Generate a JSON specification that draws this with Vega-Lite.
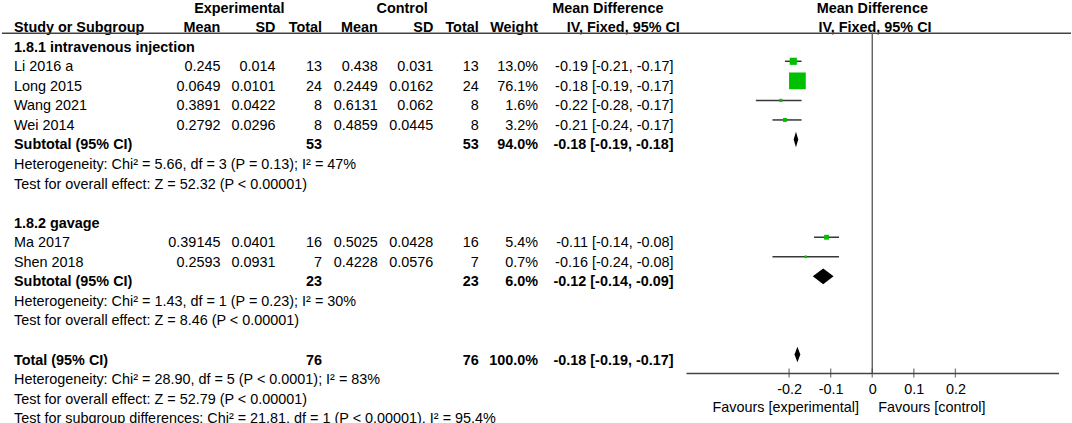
{
  "$schema": "https://vega.github.io/schema/vega-lite/v6.json",
  "width": 1072,
  "height": 373,
  "autosize": {"type": "none"},
  "padding": {"left": 0, "top": 0, "right": 0, "bottom": 50},
  "background": "white",
  "config": {
    "view": {"stroke": null},
    "text": {"font": "Liberation Sans", "fontSize": 14.4, "baseline": "middle", "dy": 6, "color": "#000000"}
  },
  "datasets": {
    "rows": [
      {"k": -3, "kind": "header", "expHead": "Experimental", "ctlHead": "Control", "mdHead": "Mean Difference", "plotHead": "Mean Difference"},
      {"k": -2, "kind": "header", "study": "Study or Subgroup", "eMean": "Mean", "eSD": "SD", "eTotal": "Total", "cMean": "Mean", "cSD": "SD", "cTotal": "Total", "weight": "Weight", "ivHead": "IV, Fixed, 95% CI", "plotIV": "IV, Fixed, 95% CI"},
      {"k": -1, "kind": "group", "study": "1.8.1 intravenous injection"},
      {"k": 0, "kind": "study", "study": "Li 2016 a", "eMean": 0.245, "eSD": 0.014, "eTotal": 13, "cMean": 0.438, "cSD": 0.031, "cTotal": 13, "weight": "13.0%", "w": 13.0, "md": -0.19, "lo": -0.21, "hi": -0.17, "ci": "-0.19 [-0.21, -0.17]"},
      {"k": 1, "kind": "study", "study": "Long 2015", "eMean": 0.0649, "eSD": 0.0101, "eTotal": 24, "cMean": 0.2449, "cSD": 0.0162, "cTotal": 24, "weight": "76.1%", "w": 76.1, "md": -0.18, "lo": -0.19, "hi": -0.17, "ci": "-0.18 [-0.19, -0.17]"},
      {"k": 2, "kind": "study", "study": "Wang 2021", "eMean": 0.3891, "eSD": 0.0422, "eTotal": 8, "cMean": 0.6131, "cSD": 0.062, "cTotal": 8, "weight": "1.6%", "w": 1.6, "md": -0.22, "lo": -0.28, "hi": -0.17, "ci": "-0.22 [-0.28, -0.17]"},
      {"k": 3, "kind": "study", "study": "Wei 2014", "eMean": 0.2792, "eSD": 0.0296, "eTotal": 8, "cMean": 0.4859, "cSD": 0.0445, "cTotal": 8, "weight": "3.2%", "w": 3.2, "md": -0.21, "lo": -0.24, "hi": -0.17, "ci": "-0.21 [-0.24, -0.17]"},
      {"k": 4, "kind": "pooled", "study": "Subtotal (95% CI)", "eTotal": 53, "cTotal": 53, "weight": "94.0%", "md": -0.1835, "lo": -0.189, "hi": -0.178, "ci": "-0.18 [-0.19, -0.18]"},
      {"k": 5, "kind": "note", "study": "Heterogeneity: Chi² = 5.66, df = 3 (P = 0.13); I² = 47%"},
      {"k": 6, "kind": "note", "study": "Test for overall effect: Z = 52.32 (P < 0.00001)"},
      {"k": 8, "kind": "group", "study": "1.8.2 gavage"},
      {"k": 9, "kind": "study", "study": "Ma 2017", "eMean": 0.39145, "eSD": 0.0401, "eTotal": 16, "cMean": 0.5025, "cSD": 0.0428, "cTotal": 16, "weight": "5.4%", "w": 5.4, "md": -0.11, "lo": -0.14, "hi": -0.08, "ci": "-0.11 [-0.14, -0.08]"},
      {"k": 10, "kind": "study", "study": "Shen 2018", "eMean": 0.2593, "eSD": 0.0931, "eTotal": 7, "cMean": 0.4228, "cSD": 0.0576, "cTotal": 7, "weight": "0.7%", "w": 0.7, "md": -0.16, "lo": -0.24, "hi": -0.08, "ci": "-0.16 [-0.24, -0.08]"},
      {"k": 11, "kind": "pooled", "study": "Subtotal (95% CI)", "eTotal": 23, "cTotal": 23, "weight": "6.0%", "md": -0.118, "lo": -0.143, "hi": -0.093, "ci": "-0.12 [-0.14, -0.09]"},
      {"k": 12, "kind": "note", "study": "Heterogeneity: Chi² = 1.43, df = 1 (P = 0.23); I² = 30%"},
      {"k": 13, "kind": "note", "study": "Test for overall effect: Z = 8.46 (P < 0.00001)"},
      {"k": 15, "kind": "pooled", "study": "Total (95% CI)", "eTotal": 76, "cTotal": 76, "weight": "100.0%", "md": -0.18, "lo": -0.187, "hi": -0.173, "ci": "-0.18 [-0.19, -0.17]"},
      {"k": 16, "kind": "note", "study": "Heterogeneity: Chi² = 28.90, df = 5 (P < 0.0001); I² = 83%"},
      {"k": 17, "kind": "note", "study": "Test for overall effect: Z = 52.79 (P < 0.00001)"},
      {"k": 18, "kind": "note", "study": "Test for subgroup differences: Chi² = 21.81, df = 1 (P < 0.00001), I² = 95.4%"}
    ],
    "ticks": [{"v": -0.2}, {"v": -0.1}, {"v": 0}, {"v": 0.1}, {"v": 0.2}],
    "favours": [{"side": "left", "label": "Favours [experimental]"}, {"side": "right", "label": "Favours [control]"}]
  },
  "data": {"name": "rows"},
  "layer": [
    {
      "transform": [{"filter": "isValid(datum.study)"}],
      "encoding": {"x": {"value": 14}, "y": {"field": "k", "type": "quantitative", "scale": {"domain": [-3.1355, 15.944], "reverse": true, "nice": false, "zero": false}, "axis": null}, "text": {"field": "study", "type": "nominal"}},
      "layer": [
        {"transform": [{"filter": "datum.kind == 'study' || datum.kind == 'note'"}], "mark": {"type": "text", "align": "left"}},
        {"transform": [{"filter": "!(datum.kind == 'study' || datum.kind == 'note')"}], "mark": {"type": "text", "align": "left", "fontWeight": "bold"}}
      ]
    },
    {
      "transform": [{"filter": "isValid(datum.eMean)"}],
      "encoding": {"x": {"value": 220.4}, "y": {"field": "k", "type": "quantitative", "scale": {"domain": [-3.1355, 15.944], "reverse": true, "nice": false, "zero": false}, "axis": null}, "text": {"field": "eMean", "type": "nominal"}},
      "layer": [
        {"transform": [{"filter": "datum.kind == 'study' || datum.kind == 'note'"}], "mark": {"type": "text", "align": "right"}},
        {"transform": [{"filter": "!(datum.kind == 'study' || datum.kind == 'note')"}], "mark": {"type": "text", "align": "right", "fontWeight": "bold"}}
      ]
    },
    {
      "transform": [{"filter": "isValid(datum.eSD)"}],
      "encoding": {"x": {"value": 275.5}, "y": {"field": "k", "type": "quantitative", "scale": {"domain": [-3.1355, 15.944], "reverse": true, "nice": false, "zero": false}, "axis": null}, "text": {"field": "eSD", "type": "nominal"}},
      "layer": [
        {"transform": [{"filter": "datum.kind == 'study' || datum.kind == 'note'"}], "mark": {"type": "text", "align": "right"}},
        {"transform": [{"filter": "!(datum.kind == 'study' || datum.kind == 'note')"}], "mark": {"type": "text", "align": "right", "fontWeight": "bold"}}
      ]
    },
    {
      "transform": [{"filter": "isValid(datum.eTotal)"}],
      "encoding": {"x": {"value": 322}, "y": {"field": "k", "type": "quantitative", "scale": {"domain": [-3.1355, 15.944], "reverse": true, "nice": false, "zero": false}, "axis": null}, "text": {"field": "eTotal", "type": "nominal"}},
      "layer": [
        {"transform": [{"filter": "datum.kind == 'study' || datum.kind == 'note'"}], "mark": {"type": "text", "align": "right"}},
        {"transform": [{"filter": "!(datum.kind == 'study' || datum.kind == 'note')"}], "mark": {"type": "text", "align": "right", "fontWeight": "bold"}}
      ]
    },
    {
      "transform": [{"filter": "isValid(datum.cMean)"}],
      "encoding": {"x": {"value": 377.8}, "y": {"field": "k", "type": "quantitative", "scale": {"domain": [-3.1355, 15.944], "reverse": true, "nice": false, "zero": false}, "axis": null}, "text": {"field": "cMean", "type": "nominal"}},
      "layer": [
        {"transform": [{"filter": "datum.kind == 'study' || datum.kind == 'note'"}], "mark": {"type": "text", "align": "right"}},
        {"transform": [{"filter": "!(datum.kind == 'study' || datum.kind == 'note')"}], "mark": {"type": "text", "align": "right", "fontWeight": "bold"}}
      ]
    },
    {
      "transform": [{"filter": "isValid(datum.cSD)"}],
      "encoding": {"x": {"value": 433.3}, "y": {"field": "k", "type": "quantitative", "scale": {"domain": [-3.1355, 15.944], "reverse": true, "nice": false, "zero": false}, "axis": null}, "text": {"field": "cSD", "type": "nominal"}},
      "layer": [
        {"transform": [{"filter": "datum.kind == 'study' || datum.kind == 'note'"}], "mark": {"type": "text", "align": "right"}},
        {"transform": [{"filter": "!(datum.kind == 'study' || datum.kind == 'note')"}], "mark": {"type": "text", "align": "right", "fontWeight": "bold"}}
      ]
    },
    {
      "transform": [{"filter": "isValid(datum.cTotal)"}],
      "encoding": {"x": {"value": 478.7}, "y": {"field": "k", "type": "quantitative", "scale": {"domain": [-3.1355, 15.944], "reverse": true, "nice": false, "zero": false}, "axis": null}, "text": {"field": "cTotal", "type": "nominal"}},
      "layer": [
        {"transform": [{"filter": "datum.kind == 'study' || datum.kind == 'note'"}], "mark": {"type": "text", "align": "right"}},
        {"transform": [{"filter": "!(datum.kind == 'study' || datum.kind == 'note')"}], "mark": {"type": "text", "align": "right", "fontWeight": "bold"}}
      ]
    },
    {
      "transform": [{"filter": "isValid(datum.weight)"}],
      "encoding": {"x": {"value": 538}, "y": {"field": "k", "type": "quantitative", "scale": {"domain": [-3.1355, 15.944], "reverse": true, "nice": false, "zero": false}, "axis": null}, "text": {"field": "weight", "type": "nominal"}},
      "layer": [
        {"transform": [{"filter": "datum.kind == 'study' || datum.kind == 'note'"}], "mark": {"type": "text", "align": "right"}},
        {"transform": [{"filter": "!(datum.kind == 'study' || datum.kind == 'note')"}], "mark": {"type": "text", "align": "right", "fontWeight": "bold"}}
      ]
    },
    {
      "transform": [{"filter": "isValid(datum.ci)"}],
      "encoding": {"x": {"value": 673.5}, "y": {"field": "k", "type": "quantitative", "scale": {"domain": [-3.1355, 15.944], "reverse": true, "nice": false, "zero": false}, "axis": null}, "text": {"field": "ci", "type": "nominal"}},
      "layer": [
        {"transform": [{"filter": "datum.kind == 'study' || datum.kind == 'note'"}], "mark": {"type": "text", "align": "right"}},
        {"transform": [{"filter": "!(datum.kind == 'study' || datum.kind == 'note')"}], "mark": {"type": "text", "align": "right", "fontWeight": "bold"}}
      ]
    },
    {
      "transform": [{"filter": "isValid(datum.expHead)"}],
      "mark": {"type": "text", "align": "center", "fontWeight": "bold"},
      "encoding": {"x": {"value": 239.4}, "y": {"field": "k", "type": "quantitative", "scale": {"domain": [-3.1355, 15.944], "reverse": true, "nice": false, "zero": false}, "axis": null}, "text": {"field": "expHead", "type": "nominal"}}
    },
    {
      "transform": [{"filter": "isValid(datum.ctlHead)"}],
      "mark": {"type": "text", "align": "center", "fontWeight": "bold"},
      "encoding": {"x": {"value": 402.1}, "y": {"field": "k", "type": "quantitative", "scale": {"domain": [-3.1355, 15.944], "reverse": true, "nice": false, "zero": false}, "axis": null}, "text": {"field": "ctlHead", "type": "nominal"}}
    },
    {
      "transform": [{"filter": "isValid(datum.mdHead)"}],
      "mark": {"type": "text", "align": "center", "fontWeight": "bold"},
      "encoding": {"x": {"value": 607.8}, "y": {"field": "k", "type": "quantitative", "scale": {"domain": [-3.1355, 15.944], "reverse": true, "nice": false, "zero": false}, "axis": null}, "text": {"field": "mdHead", "type": "nominal"}}
    },
    {
      "transform": [{"filter": "isValid(datum.ivHead)"}],
      "mark": {"type": "text", "align": "center", "fontWeight": "bold"},
      "encoding": {"x": {"value": 623.3}, "y": {"field": "k", "type": "quantitative", "scale": {"domain": [-3.1355, 15.944], "reverse": true, "nice": false, "zero": false}, "axis": null}, "text": {"field": "ivHead", "type": "nominal"}}
    },
    {
      "transform": [{"filter": "isValid(datum.plotHead)"}],
      "mark": {"type": "text", "align": "center", "fontWeight": "bold"},
      "encoding": {"x": {"value": 872.3}, "y": {"field": "k", "type": "quantitative", "scale": {"domain": [-3.1355, 15.944], "reverse": true, "nice": false, "zero": false}, "axis": null}, "text": {"field": "plotHead", "type": "nominal"}}
    },
    {
      "transform": [{"filter": "isValid(datum.plotIV)"}],
      "mark": {"type": "text", "align": "center", "fontWeight": "bold"},
      "encoding": {"x": {"value": 875}, "y": {"field": "k", "type": "quantitative", "scale": {"domain": [-3.1355, 15.944], "reverse": true, "nice": false, "zero": false}, "axis": null}, "text": {"field": "plotIV", "type": "nominal"}}
    },
    {
      "transform": [{"filter": "datum.k == -2"}],
      "mark": {"type": "rule", "color": "#444444", "strokeWidth": 1.5},
      "encoding": {"x": {"value": 2}, "x2": {"value": 1071}, "y": {"datum": -1.43, "type": "quantitative", "scale": {"domain": [-3.1355, 15.944], "reverse": true, "nice": false, "zero": false}, "axis": null}}
    },
    {
      "data": {"name": "ticks"},
      "transform": [{"filter": "datum.v == 0"}],
      "mark": {"type": "rule", "color": "#555555", "strokeWidth": 1.3},
      "encoding": {
        "x": {"field": "v", "type": "quantitative", "scale": {"domain": [-0.448, 0.448], "range": [686, 1058.5], "nice": false, "zero": false},
          "axis": {"values": [-0.2, -0.1, 0, 0.1, 0.2], "labelExpr": "'' + datum.value", "ticks": false, "tickSize": 0, "domainColor": "#444444", "domainWidth": 1.3, "labelFont": "Liberation Sans", "labelFontSize": 14.4, "labelColor": "#000000", "labelPadding": 9, "title": null, "grid": false, "labelFlush": false, "labelOverlap": false}},
        "y": {"datum": -1.43, "type": "quantitative", "scale": {"domain": [-3.1355, 15.944], "reverse": true, "nice": false, "zero": false}, "axis": null},
        "y2": {"datum": 15.944}
      }
    },
    {
      "data": {"name": "ticks"},
      "mark": {"type": "tick", "orient": "vertical", "size": 9, "thickness": 1.3, "color": "#444444"},
      "encoding": {
        "x": {"field": "v", "type": "quantitative",
          "axis": {"values": [-0.2, -0.1, 0, 0.1, 0.2], "labelExpr": "'' + datum.value", "ticks": false, "tickSize": 0, "domainColor": "#444444", "domainWidth": 1.3, "labelFont": "Liberation Sans", "labelFontSize": 14.4, "labelColor": "#000000", "labelPadding": 9, "title": null, "grid": false, "labelFlush": false, "labelOverlap": false}},
        "y": {"datum": 15.944, "type": "quantitative", "scale": {"domain": [-3.1355, 15.944], "reverse": true, "nice": false, "zero": false}, "axis": null}
      }
    },
    {
      "transform": [{"filter": "datum.kind == 'study'"}],
      "mark": {"type": "rule", "color": "#383838", "strokeWidth": 1.5},
      "encoding": {
        "x": {"field": "lo", "type": "quantitative",
          "axis": {"values": [-0.2, -0.1, 0, 0.1, 0.2], "labelExpr": "'' + datum.value", "ticks": false, "tickSize": 0, "domainColor": "#444444", "domainWidth": 1.3, "labelFont": "Liberation Sans", "labelFontSize": 14.4, "labelColor": "#000000", "labelPadding": 9, "title": null, "grid": false, "labelFlush": false, "labelOverlap": false}},
        "x2": {"field": "hi"},
        "y": {"field": "k", "type": "quantitative", "scale": {"domain": [-3.1355, 15.944], "reverse": true, "nice": false, "zero": false}, "axis": null}
      }
    },
    {
      "transform": [{"filter": "datum.kind == 'study'"}],
      "mark": {"type": "point", "shape": "square", "filled": true, "color": "#00c000", "opacity": 1, "strokeWidth": 0},
      "encoding": {
        "x": {"field": "md", "type": "quantitative",
          "axis": {"values": [-0.2, -0.1, 0, 0.1, 0.2], "labelExpr": "'' + datum.value", "ticks": false, "tickSize": 0, "domainColor": "#444444", "domainWidth": 1.3, "labelFont": "Liberation Sans", "labelFontSize": 14.4, "labelColor": "#000000", "labelPadding": 9, "title": null, "grid": false, "labelFlush": false, "labelOverlap": false}},
        "y": {"field": "k", "type": "quantitative", "scale": {"domain": [-3.1355, 15.944], "reverse": true, "nice": false, "zero": false}, "axis": null},
        "size": {"field": "w", "type": "quantitative", "scale": {"type": "linear", "domain": [0, 76.1], "range": [4, 280], "zero": false}, "legend": null}
      }
    },
    {
      "transform": [
        {"filter": "datum.kind == 'pooled'"},
        {"fold": ["lo", "md", "hi"], "as": ["vertex", "xv"]},
        {"calculate": "datum.vertex == 'md' ? 0.4 : 0", "as": "half"},
        {"calculate": "datum.k - datum.half", "as": "y_top"},
        {"calculate": "datum.k + datum.half", "as": "y_bot"}
      ],
      "mark": {"type": "area", "color": "#000000", "opacity": 1, "interpolate": "linear"},
      "encoding": {
        "x": {"field": "xv", "type": "quantitative",
          "axis": {"values": [-0.2, -0.1, 0, 0.1, 0.2], "labelExpr": "'' + datum.value", "ticks": false, "tickSize": 0, "domainColor": "#444444", "domainWidth": 1.3, "labelFont": "Liberation Sans", "labelFontSize": 14.4, "labelColor": "#000000", "labelPadding": 9, "title": null, "grid": false, "labelFlush": false, "labelOverlap": false}},
        "y": {"field": "y_top", "type": "quantitative", "scale": {"domain": [-3.1355, 15.944], "reverse": true, "nice": false, "zero": false}, "axis": null},
        "y2": {"field": "y_bot"},
        "detail": {"field": "k", "type": "nominal"}
      }
    },
    {
      "data": {"name": "favours"},
      "transform": [{"filter": "datum.side == 'left'"}],
      "mark": {"type": "text", "align": "right", "dx": -13.3, "dy": 0},
      "encoding": {
        "x": {"datum": 0, "type": "quantitative",
          "axis": {"values": [-0.2, -0.1, 0, 0.1, 0.2], "labelExpr": "'' + datum.value", "ticks": false, "tickSize": 0, "domainColor": "#444444", "domainWidth": 1.3, "labelFont": "Liberation Sans", "labelFontSize": 14.4, "labelColor": "#000000", "labelPadding": 9, "title": null, "grid": false, "labelFlush": false, "labelOverlap": false}},
        "y": {"datum": 17.71, "type": "quantitative", "scale": {"domain": [-3.1355, 15.944], "reverse": true, "nice": false, "zero": false}, "axis": null},
        "text": {"field": "label", "type": "nominal"}
      }
    },
    {
      "data": {"name": "favours"},
      "transform": [{"filter": "datum.side == 'right'"}],
      "mark": {"type": "text", "align": "left", "dx": 6, "dy": 0},
      "encoding": {
        "x": {"datum": 0, "type": "quantitative",
          "axis": {"values": [-0.2, -0.1, 0, 0.1, 0.2], "labelExpr": "'' + datum.value", "ticks": false, "tickSize": 0, "domainColor": "#444444", "domainWidth": 1.3, "labelFont": "Liberation Sans", "labelFontSize": 14.4, "labelColor": "#000000", "labelPadding": 9, "title": null, "grid": false, "labelFlush": false, "labelOverlap": false}},
        "y": {"datum": 17.71, "type": "quantitative", "scale": {"domain": [-3.1355, 15.944], "reverse": true, "nice": false, "zero": false}, "axis": null},
        "text": {"field": "label", "type": "nominal"}
      }
    }
  ]
}
